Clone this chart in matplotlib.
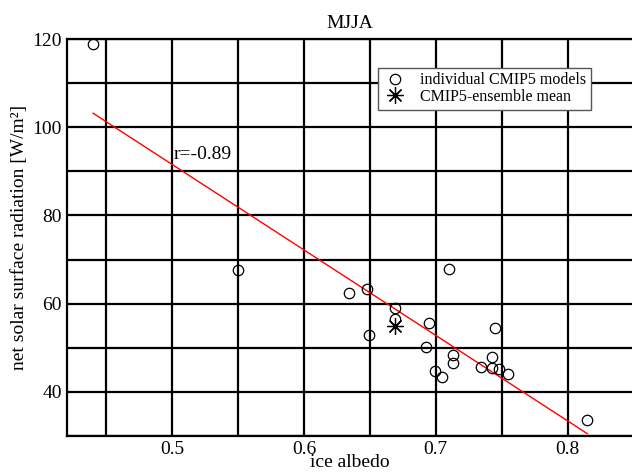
import numpy as np
import matplotlib
matplotlib.use("Agg")
import matplotlib.pyplot as plt

plt.rcParams['font.family'] = ['Liberation Serif', 'DejaVu Serif']

# individual CMIP5 models
albedo = [0.440, 0.550, 0.6345, 0.6476, 0.6496, 0.6693, 0.669, 0.695, 0.6926,
          0.710, 0.7447, 0.7128, 0.7128, 0.6994, 0.7047, 0.7345, 0.7426,
          0.7426, 0.7477, 0.7547, 0.8149]
radiation = [119.0, 67.7, 62.4, 63.2, 52.8, 59.0, 56.5, 55.5, 50.1,
             67.8, 54.4, 48.4, 46.4, 44.8, 43.4, 45.5, 47.9,
             45.4, 45.1, 44.0, 33.5]
# ensemble mean
mean_albedo = [0.6688]
mean_radiation = [54.8]
r_text = "r=-0.89"

xticks_major = [0.5, 0.6, 0.7, 0.8]
yticks_major = [40, 60, 80, 100, 120]

fig = plt.figure(figsize=(6.32, 4.75), dpi=100)
ax = fig.add_axes([66.7/632, 1 - 435.7/475, (633.6 - 66.7)/632, (435.7 - 39.3)/475])

ax.set_xlim(0.42, 0.85)
ax.set_ylim(30, 120)

ax.set_xticks(xticks_major)
ax.set_yticks(yticks_major)
ax.set_xticks(np.arange(0.45, 0.851, 0.1), minor=True)
ax.set_yticks(np.arange(30, 121, 20), minor=True)
ax.tick_params(which='both', length=0, labelsize=14)
ax.tick_params(axis='x', pad=4)
ax.tick_params(axis='y', pad=3.5)
ax.grid(True, which='both', color='black', linewidth=1.6)
ax.set_axisbelow(True)
for s in ['left', 'bottom', 'top']:
    ax.spines[s].set_linewidth(1.6)
ax.spines['right'].set_visible(False)

# regression line
xa = np.array(albedo)
ya = np.array(radiation)
k, b = np.polyfit(xa, ya, 1)
xl = np.array([xa.min(), xa.max()])
ax.plot(xl, k * xl + b, color='red', linewidth=1.0, zorder=3)

ax.plot(albedo, radiation, linestyle='none', marker='o', markersize=7.5,
        markerfacecolor='none', markeredgecolor='black', markeredgewidth=0.9,
        label='individual CMIP5 models', zorder=4, clip_on=False)
ax.plot(mean_albedo, mean_radiation, linestyle='none', marker=(8, 2, 0),
        markersize=12, color='black', markeredgewidth=0.9,
        label='CMIP5-ensemble mean', zorder=4)

ax.text(0.501, 93.9, r_text, fontsize=14, va='center', ha='left')

leg = ax.legend(loc='upper left', bbox_to_anchor=(378.3/632, 1 - 67.7/475),
                bbox_transform=fig.transFigure, fontsize=11.5, frameon=True,
                fancybox=False, framealpha=1, edgecolor='#555555',
                borderpad=0.3, labelspacing=0.02, handletextpad=0.8,
                handlelength=1.5, borderaxespad=0)
leg.get_frame().set_linewidth(1.0)

ax.set_title("MJJA", fontsize=14, pad=8)
ax.set_xlabel("ice albedo", fontsize=14, labelpad=-3)
ax.set_ylabel("net solar surface radiation [W/m²]", fontsize=14, labelpad=3)

fig.savefig("out.png", dpi=100)
